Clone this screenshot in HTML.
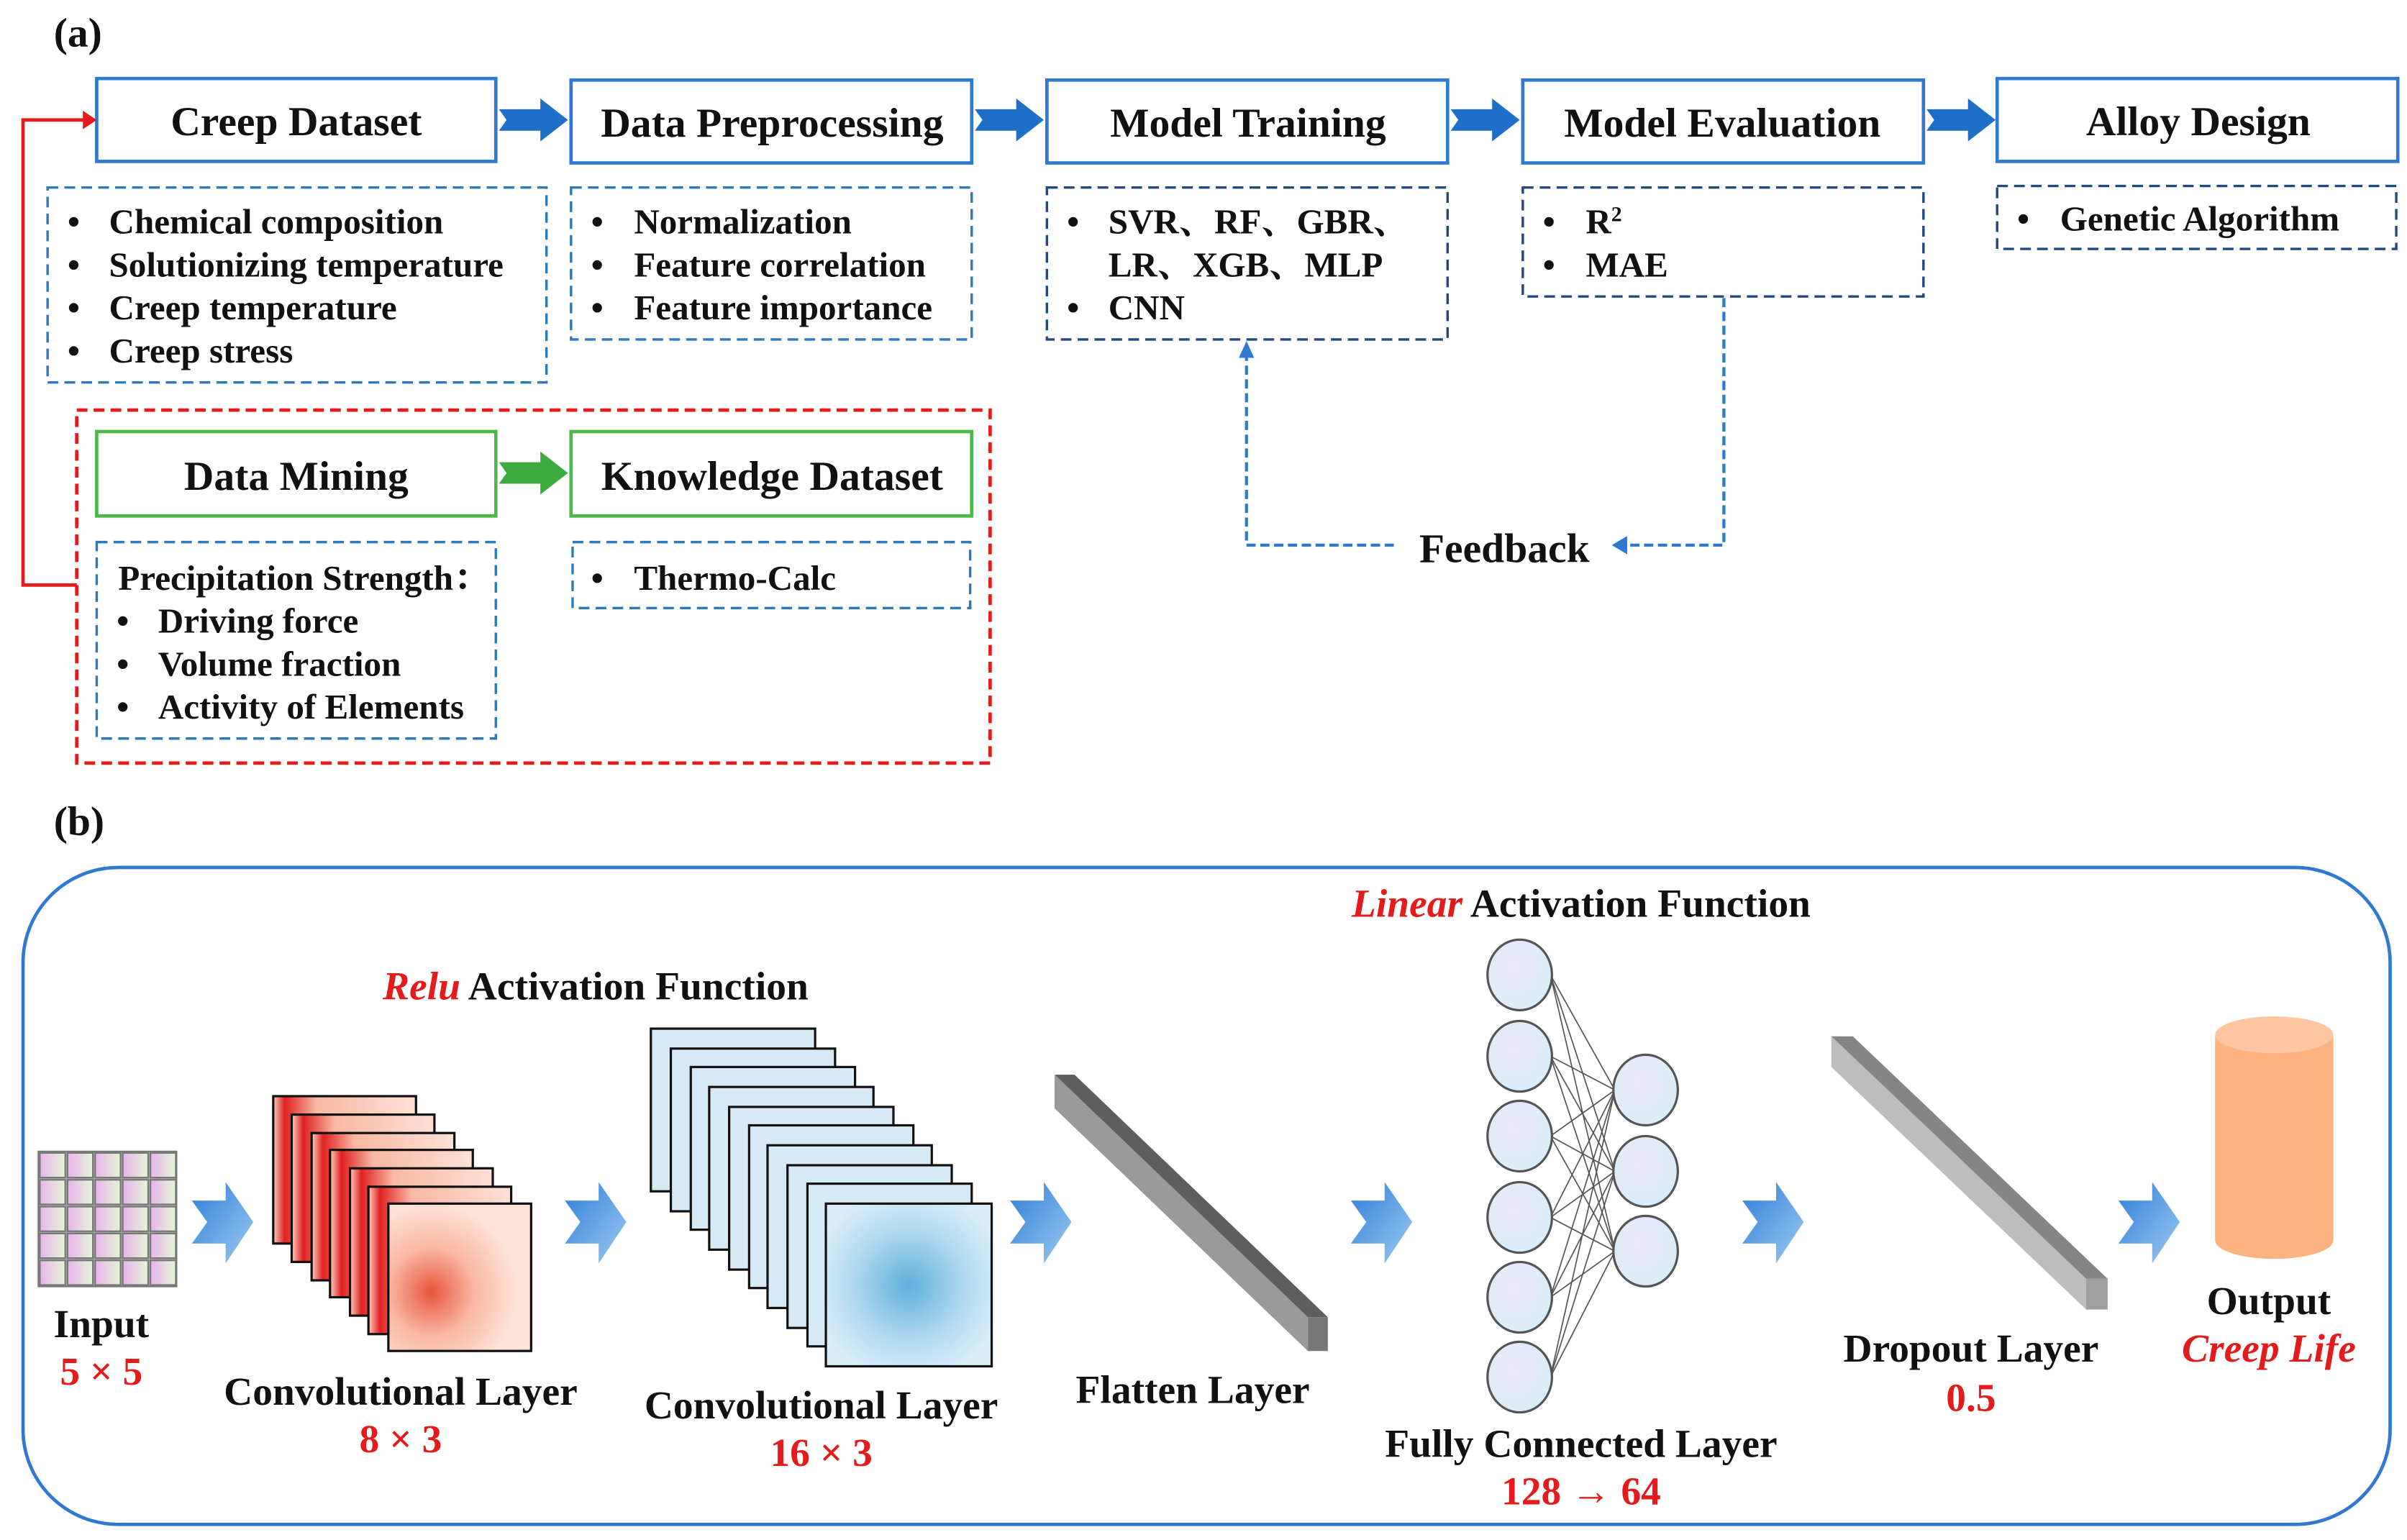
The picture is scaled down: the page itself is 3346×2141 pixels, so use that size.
<!DOCTYPE html>
<html><head><meta charset="utf-8"><style>
html,body{margin:0;padding:0;background:#fff;}
svg{display:block;}
text{font-family:"Liberation Serif","Noto Serif CJK SC",serif;font-weight:bold;fill:#111;}
.r{fill:#e51b1b;}
</style></head><body>
<svg width="3346" height="2141" viewBox="0 0 1568 1003" xmlns="http://www.w3.org/2000/svg">
<defs>
<linearGradient id="chev" x1="0" y1="0" x2="1" y2="1"><stop offset="0" stop-color="#2f80d8"/><stop offset="1" stop-color="#9cc9f0"/></linearGradient>
<linearGradient id="cell" x1="0" y1="0" x2="1" y2="0"><stop offset="0" stop-color="#e9b3ee"/><stop offset="1" stop-color="#e4f6d4"/></linearGradient>
<linearGradient id="redf" x1="0" y1="0" x2="1" y2="0"><stop offset="0" stop-color="#fbd0c0"/><stop offset="0.08" stop-color="#e02020"/><stop offset="0.3" stop-color="#f8b8a4"/><stop offset="1" stop-color="#fde1d6"/></linearGradient>
<radialGradient id="redfront" cx="0.3" cy="0.6" r="0.6"><stop offset="0" stop-color="#e8553c"/><stop offset="0.5" stop-color="#f9b7a2"/><stop offset="1" stop-color="#fde3d8"/></radialGradient>
<radialGradient id="bluefront" cx="0.5" cy="0.5" r="0.6"><stop offset="0" stop-color="#5fb0dc"/><stop offset="0.6" stop-color="#b5dbf0"/><stop offset="1" stop-color="#dbeef8"/></radialGradient>
<radialGradient id="node" cx="0.4" cy="0.4" r="0.7"><stop offset="0" stop-color="#eee8fa"/><stop offset="1" stop-color="#d6eef8"/></radialGradient>
</defs>

<text x="35" y="30" font-size="27">(a)</text>

<g fill="#fff" stroke="#2f7ad0" stroke-width="2.2">
<rect x="63" y="51" width="260" height="54"/>
<rect x="372" y="52" width="261" height="54"/>
<rect x="682" y="52" width="261" height="54"/>
<rect x="992" y="52" width="261" height="54"/>
<rect x="1301" y="51" width="261" height="54"/>
</g>
<g fill="#1f6fc8">
<polygon points="325,71 352,71 352,64 370,78 352,92 352,85 325,85 330,78"/>
<polygon points="635,71 662,71 662,64 680,78 662,92 662,85 635,85 640,78"/>
<polygon points="945,71 972,71 972,64 990,78 972,92 972,85 945,85 950,78"/>
<polygon points="1255,71 1282,71 1282,64 1300,78 1282,92 1282,85 1255,85 1260,78"/>
</g>
<g font-size="27" text-anchor="middle">
<text x="193" y="88">Creep Dataset</text>
<text x="503" y="89">Data Preprocessing</text>
<text x="813" y="89">Model Training</text>
<text x="1122" y="89">Model Evaluation</text>
<text x="1432" y="88">Alloy Design</text>
</g>

<g fill="none" stroke-width="1.6" stroke-dasharray="7,4">
<rect x="31" y="122" width="325" height="127" stroke="#2e7ab8"/>
<rect x="372" y="122" width="261" height="99" stroke="#2e7ab8"/>
<rect x="682" y="122" width="261" height="99" stroke="#23487f"/>
<rect x="992" y="122" width="261" height="71" stroke="#23487f"/>
<rect x="1301" y="121" width="260" height="41" stroke="#23487f"/>
</g>
<g font-size="23">
<text x="44" y="152">•</text><text x="71" y="152">Chemical composition</text>
<text x="44" y="180">•</text><text x="71" y="180">Solutionizing temperature</text>
<text x="44" y="208">•</text><text x="71" y="208">Creep temperature</text>
<text x="44" y="236">•</text><text x="71" y="236">Creep stress</text>
<text x="385" y="152">•</text><text x="413" y="152">Normalization</text>
<text x="385" y="180">•</text><text x="413" y="180">Feature correlation</text>
<text x="385" y="208">•</text><text x="413" y="208">Feature importance</text>
<text x="695" y="152">•</text><text x="722" y="152">SVR、RF、GBR、</text>
<text x="722" y="180">LR、XGB、MLP</text>
<text x="695" y="208">•</text><text x="722" y="208">CNN</text>
<text x="1005" y="152">•</text><text x="1033" y="152">R<tspan font-size="14" dy="-8">2</tspan></text>
<text x="1005" y="180">•</text><text x="1033" y="180">MAE</text>
<text x="1314" y="150">•</text><text x="1342" y="150">Genetic Algorithm</text>
</g>

<rect x="50" y="267" width="595" height="230" fill="none" stroke="#e51b1b" stroke-width="2.2" stroke-dasharray="7,4"/>
<polyline points="50,381 15,381 15,78 55,78" fill="none" stroke="#e51b1b" stroke-width="2.2"/>
<polygon points="54,72 63,78 54,84" fill="#e51b1b"/>
<g fill="#fff" stroke="#4cb84a" stroke-width="2.2">
<rect x="63" y="281" width="260" height="55"/>
<rect x="372" y="281" width="261" height="55"/>
</g>
<polygon points="325,301 352,301 352,294 370,308 352,322 352,315 325,315 330,308" fill="#3dab3d"/>
<g font-size="27" text-anchor="middle">
<text x="193" y="319">Data Mining</text>
<text x="503" y="319">Knowledge Dataset</text>
</g>
<g fill="none" stroke-width="1.6" stroke-dasharray="7,4" stroke="#2e7ab8">
<rect x="63" y="353" width="260" height="128"/>
<rect x="373" y="353" width="259" height="43"/>
</g>
<g font-size="23">
<text x="77" y="384">Precipitation Strength：</text>
<text x="76" y="412">•</text><text x="103" y="412">Driving force</text>
<text x="76" y="440">•</text><text x="103" y="440">Volume fraction</text>
<text x="76" y="468">•</text><text x="103" y="468">Activity of Elements</text>
<text x="385" y="384">•</text><text x="413" y="384">Thermo-Calc</text>
</g>

<g fill="none" stroke="#2f7ad0" stroke-width="2" stroke-dasharray="6,3">
<polyline points="1123,194 1123,355 1060,355"/>
<polyline points="908,355 812,355 812,232"/>
</g>
<polygon points="1050,355 1060,349 1060,361" fill="#2f7ad0"/>
<polygon points="812,222 807,233 817,233" fill="#2f7ad0"/>
<text x="980" y="366" font-size="27" text-anchor="middle">Feedback</text>

<text x="35" y="544" font-size="27">(b)</text>
<rect x="15" y="565" width="1542" height="428" rx="62" ry="62" fill="none" stroke="#2f7ad0" stroke-width="2.2"/>

<text x="388" y="651" font-size="26" text-anchor="middle"><tspan class="r" font-style="italic">Relu</tspan> Activation Function</text>
<text x="1030" y="597" font-size="26" text-anchor="middle"><tspan class="r" font-style="italic">Linear</tspan> Activation Function</text>

<g stroke="#777" stroke-width="1">
<rect x="25" y="750" width="90" height="88" fill="#aaa"/>
<g fill="url(#cell)">
<rect x="26" y="751" width="16.5" height="16"/><rect x="44" y="751" width="16.5" height="16"/><rect x="62" y="751" width="16.5" height="16"/><rect x="80" y="751" width="16.5" height="16"/><rect x="98" y="751" width="16.5" height="16"/>
<rect x="26" y="768.5" width="16.5" height="16"/><rect x="44" y="768.5" width="16.5" height="16"/><rect x="62" y="768.5" width="16.5" height="16"/><rect x="80" y="768.5" width="16.5" height="16"/><rect x="98" y="768.5" width="16.5" height="16"/>
<rect x="26" y="786" width="16.5" height="16"/><rect x="44" y="786" width="16.5" height="16"/><rect x="62" y="786" width="16.5" height="16"/><rect x="80" y="786" width="16.5" height="16"/><rect x="98" y="786" width="16.5" height="16"/>
<rect x="26" y="803.5" width="16.5" height="16"/><rect x="44" y="803.5" width="16.5" height="16"/><rect x="62" y="803.5" width="16.5" height="16"/><rect x="80" y="803.5" width="16.5" height="16"/><rect x="98" y="803.5" width="16.5" height="16"/>
<rect x="26" y="821" width="16.5" height="16"/><rect x="44" y="821" width="16.5" height="16"/><rect x="62" y="821" width="16.5" height="16"/><rect x="80" y="821" width="16.5" height="16"/><rect x="98" y="821" width="16.5" height="16"/>
</g></g>

<g fill="url(#chev)">
<polygon points="147,770 165,796 147,823 147,810 125,810 135,796 125,782 147,782"/>
<polygon points="390,770 408,796 390,823 390,810 368,810 378,796 368,782 390,782"/>
<polygon points="680,770 698,796 680,823 680,810 658,810 668,796 658,782 680,782"/>
<polygon points="902,770 920,796 902,823 902,810 880,810 890,796 880,782 902,782"/>
<polygon points="1157,770 1175,796 1157,823 1157,810 1135,810 1145,796 1135,782 1157,782"/>
<polygon points="1402,770 1420,796 1402,823 1402,810 1380,810 1390,796 1380,782 1402,782"/>
</g>

<g stroke="#111" stroke-width="1.5" fill="url(#redf)">
<rect x="178" y="714" width="93" height="96"/>
<rect x="190" y="726" width="93" height="96"/>
<rect x="203" y="738" width="93" height="96"/>
<rect x="215" y="749" width="93" height="96"/>
<rect x="228" y="761" width="93" height="96"/>
<rect x="240" y="773" width="93" height="96"/>
<rect x="253" y="784" width="93" height="96" fill="url(#redfront)"/>
</g>
<g stroke="#111" stroke-width="1.5" fill="#d6eaf6">
<rect x="424" y="670" width="107" height="106"/>
<rect x="437" y="683" width="107" height="106"/>
<rect x="450" y="695" width="107" height="106"/>
<rect x="462" y="708" width="107" height="106"/>
<rect x="475" y="721" width="107" height="106"/>
<rect x="488" y="733" width="107" height="106"/>
<rect x="500" y="746" width="107" height="106"/>
<rect x="513" y="759" width="107" height="106"/>
<rect x="526" y="771" width="107" height="106"/>
<rect x="538" y="784" width="108" height="106" fill="url(#bluefront)"/>
</g>

<polygon points="687,700 700,700 865,858 852,858" fill="#5e5e5e"/>
<polygon points="687,700 852,858 852,880 687,722" fill="#9a9a9a"/>
<polygon points="852,858 865,858 865,880 852,880" fill="#777"/>

<g stroke="#555" stroke-width="0.8">
<line x1="1010" y1="635" x2="1052" y2="710"/><line x1="1010" y1="635" x2="1052" y2="763"/><line x1="1010" y1="635" x2="1052" y2="815"/>
<line x1="1010" y1="688" x2="1052" y2="710"/><line x1="1010" y1="688" x2="1052" y2="763"/><line x1="1010" y1="688" x2="1052" y2="815"/>
<line x1="1010" y1="740" x2="1052" y2="710"/><line x1="1010" y1="740" x2="1052" y2="763"/><line x1="1010" y1="740" x2="1052" y2="815"/>
<line x1="1010" y1="793" x2="1052" y2="710"/><line x1="1010" y1="793" x2="1052" y2="763"/><line x1="1010" y1="793" x2="1052" y2="815"/>
<line x1="1010" y1="845" x2="1052" y2="710"/><line x1="1010" y1="845" x2="1052" y2="763"/><line x1="1010" y1="845" x2="1052" y2="815"/>
<line x1="1010" y1="897" x2="1052" y2="710"/><line x1="1010" y1="897" x2="1052" y2="763"/><line x1="1010" y1="897" x2="1052" y2="815"/>
</g>
<g fill="url(#node)" stroke="#555" stroke-width="1.5">
<ellipse cx="990" cy="635" rx="21" ry="23"/><ellipse cx="990" cy="688" rx="21" ry="23"/><ellipse cx="990" cy="740" rx="21" ry="23"/>
<ellipse cx="990" cy="793" rx="21" ry="23"/><ellipse cx="990" cy="845" rx="21" ry="23"/><ellipse cx="990" cy="897" rx="21" ry="23"/>
<ellipse cx="1072" cy="710" rx="21" ry="23"/><ellipse cx="1072" cy="763" rx="21" ry="23"/><ellipse cx="1072" cy="815" rx="21" ry="23"/>
</g>

<polygon points="1193,675 1207,675 1373,833 1359,833" fill="#858585"/>
<polygon points="1193,675 1359,833 1359,853 1193,695" fill="#bdbdbd"/>
<polygon points="1359,833 1373,833 1373,853 1359,853" fill="#a0a0a0"/>

<rect x="1443" y="674" width="77" height="134" fill="#fdb37f"/>
<ellipse cx="1481.5" cy="808" rx="38.5" ry="12" fill="#fdb37f"/>
<ellipse cx="1481.5" cy="674" rx="38.5" ry="12" fill="#fec6a0"/>

<g font-size="26" text-anchor="middle">
<text x="66" y="871">Input</text>
<text x="66" y="902" class="r">5 × 5</text>
<text x="261" y="915">Convolutional Layer</text>
<text x="261" y="946" class="r">8 × 3</text>
<text x="535" y="924">Convolutional Layer</text>
<text x="535" y="955" class="r">16 × 3</text>
<text x="777" y="914">Flatten Layer</text>
<text x="1030" y="949">Fully Connected Layer</text>
<text x="1030" y="980" class="r">128 → 64</text>
<text x="1284" y="887">Dropout Layer</text>
<text x="1284" y="919" class="r">0.5</text>
<text x="1478" y="856">Output</text>
<text x="1478" y="887" class="r" font-style="italic">Creep Life</text>
</g>
</svg>
</body></html>
